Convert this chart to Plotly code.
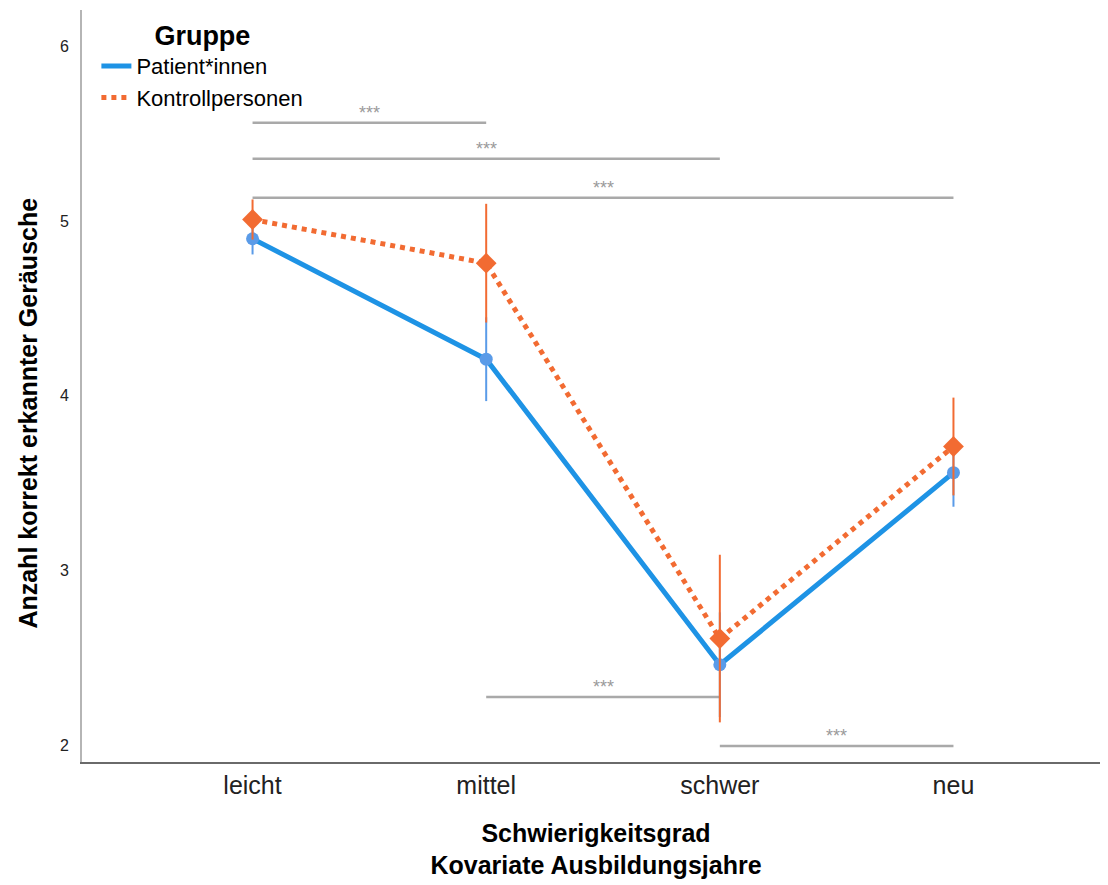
import plotly.graph_objects as go

categories = ["leicht", "mittel", "schwer", "neu"]
patients_mean = [4.90, 4.21, 2.46, 3.56]
patients_err = [0.09, 0.24, 0.30, 0.195]
controls_mean = [5.01, 4.76, 2.61, 3.71]
controls_err = [0.115, 0.34, 0.48, 0.28]

# significance comparisons: (from category, to category, bracket level, label)
sig_from = ["leicht", "leicht", "leicht", "mittel", "schwer"]
sig_to = ["mittel", "schwer", "neu", "schwer", "neu"]
sig_level = [5.564, 5.358, 5.135, 2.275, 1.994]
sig_label = ["***", "***", "***", "***", "***"]

BLUE = "#1e93e5"
BLUE_MK = "#5a9be8"
ORANGE = "#f26b32"
GRAY = "#a9a9a9"
FONT = "Liberation Sans, Arial, sans-serif"

fig = go.Figure()

# significance brackets
for a, b, h, lab in zip(sig_from, sig_to, sig_level, sig_label):
    fig.add_trace(go.Scatter(
        x=[a, b], y=[h, h], mode="lines",
        line=dict(color=GRAY, width=2.5), showlegend=False, hoverinfo="skip"))
    ia, ib = categories.index(a), categories.index(b)
    fig.add_annotation(x=(ia + ib) / 2, y=h, text=lab, showarrow=False,
                       yshift=10, font=dict(family=FONT, size=18, color="#9a9a9a"))

fig.add_trace(go.Scatter(
    x=categories, y=patients_mean, name="Patient*innen", mode="lines+markers",
    line=dict(color=BLUE, width=5), showlegend=False,
    marker=dict(symbol="circle", size=13, color=BLUE_MK),
    error_y=dict(type="data", array=patients_err, color=BLUE_MK, thickness=2, width=0),
))
fig.add_trace(go.Scatter(
    x=categories, y=controls_mean, name="Kontrollpersonen", mode="lines+markers",
    line=dict(color=ORANGE, width=5, dash="dot"), showlegend=False,
    marker=dict(symbol="diamond", size=16, color=ORANGE),
    error_y=dict(type="data", array=controls_err, color=ORANGE, thickness=2, width=0),
))
# legend entries (lines only)
fig.add_trace(go.Scatter(x=[None], y=[None], name="Patient*innen", mode="lines",
                         line=dict(color=BLUE, width=5)))
fig.add_trace(go.Scatter(x=[None], y=[None], name="Kontrollpersonen", mode="lines",
                         line=dict(color=ORANGE, width=5, dash="dot")))

fig.update_layout(
    width=1108, height=885,
    margin=dict(l=74, r=6, t=2, b=131),
    paper_bgcolor="white", plot_bgcolor="white",
    font=dict(family=FONT, color="#000000"),
    legend=dict(
        x=0.014, y=1.0, xanchor="left", yanchor="top",
        title=dict(text="<b>Gruppe</b>", side="top center", font=dict(size=27, family=FONT)),
        font=dict(size=22, family=FONT), bgcolor="rgba(0,0,0,0)",
        tracegroupgap=0,
    ),
    xaxis=dict(
        type="category", range=[-0.73, 3.67],
        showline=True, linecolor="#6a6a6a", linewidth=2, mirror=False,
        showgrid=False, ticks="", zeroline=False,
        tickfont=dict(family=FONT, size=25, color="#222"),
        title=dict(text="<b>Schwierigkeitsgrad<br>Kovariate Ausbildungsjahre</b>",
                   font=dict(family=FONT, size=25), standoff=26),
    ),
    yaxis=dict(
        range=[1.903, 6.21], tickvals=[2, 3, 4, 5, 6],
        showline=True, linecolor="#b5b5b5", linewidth=2,
        showgrid=False, ticks="", zeroline=False,
        tickfont=dict(family=FONT, size=16, color="#222"), ticklabelstandoff=8,
    ),
)
fig.add_annotation(
    xref="paper", yref="paper", x=-0.052, y=0.464, xanchor="center", yanchor="middle",
    text="<b>Anzahl korrekt erkannter Geräusche</b>", textangle=-90, showarrow=False,
    font=dict(family=FONT, size=25, color="#000"))

fig.write_html("out.html")
